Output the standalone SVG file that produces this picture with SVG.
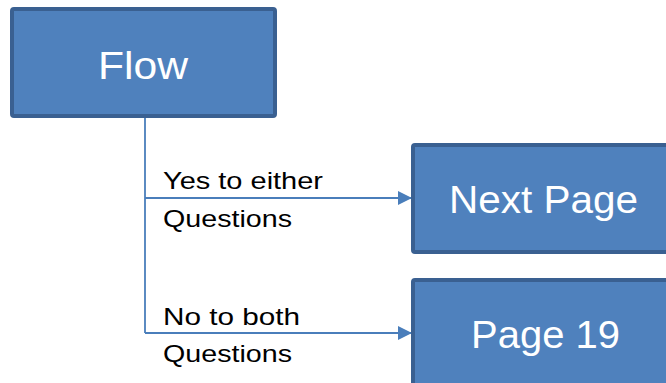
<svg xmlns="http://www.w3.org/2000/svg" width="666" height="383" viewBox="0 0 666 383">
<style>
.box{fill:#4F81BD;stroke:#3A6091;stroke-width:4}
.bt{font-family:"Liberation Sans",Arial,sans-serif;fill:#FFFFFF;font-size:38px;text-anchor:middle}
.lt{font-family:"Liberation Sans",Arial,sans-serif;fill:#000000;font-size:24px}
.con{stroke:#4A7EBB;stroke-width:1.8;fill:none}
</style>
<defs>
<marker id="arr" markerWidth="14" markerHeight="14" refX="14" refY="7" orient="auto" markerUnits="userSpaceOnUse" viewBox="0 0 14 14">
<path d="M0,0 L14,7 L0,14 Z" fill="#4A7EBB"/>
</marker>
</defs>
<g id="connectors">
<path class="con" d="M145,118 V333"/>
<path class="con" d="M145,198 H412" marker-end="url(#arr)"/>
<path class="con" d="M145,333 H412" marker-end="url(#arr)"/>
</g>
<g id="flow">
<rect class="box" x="12" y="9" width="263" height="107" rx="2"/>
<text class="bt" x="143" y="79" textLength="90" lengthAdjust="spacingAndGlyphs">Flow</text>
</g>
<g id="next">
<rect class="box" x="413" y="145" width="270" height="107" rx="2"/>
<text class="bt" x="543.5" y="213" textLength="189" lengthAdjust="spacingAndGlyphs">Next Page</text>
</g>
<g id="page19">
<rect class="box" x="413" y="280" width="270" height="120" rx="2"/>
<text class="bt" x="545.5" y="348" textLength="149" lengthAdjust="spacingAndGlyphs">Page 19</text>
</g>
<g id="labels">
<text class="lt" x="163" y="189" textLength="160" lengthAdjust="spacingAndGlyphs">Yes to either</text>
<text class="lt" x="163" y="227" textLength="129" lengthAdjust="spacingAndGlyphs">Questions</text>
<text class="lt" x="163" y="325" textLength="137" lengthAdjust="spacingAndGlyphs">No to both</text>
<text class="lt" x="163" y="362" textLength="129" lengthAdjust="spacingAndGlyphs">Questions</text>
</g>
</svg>
